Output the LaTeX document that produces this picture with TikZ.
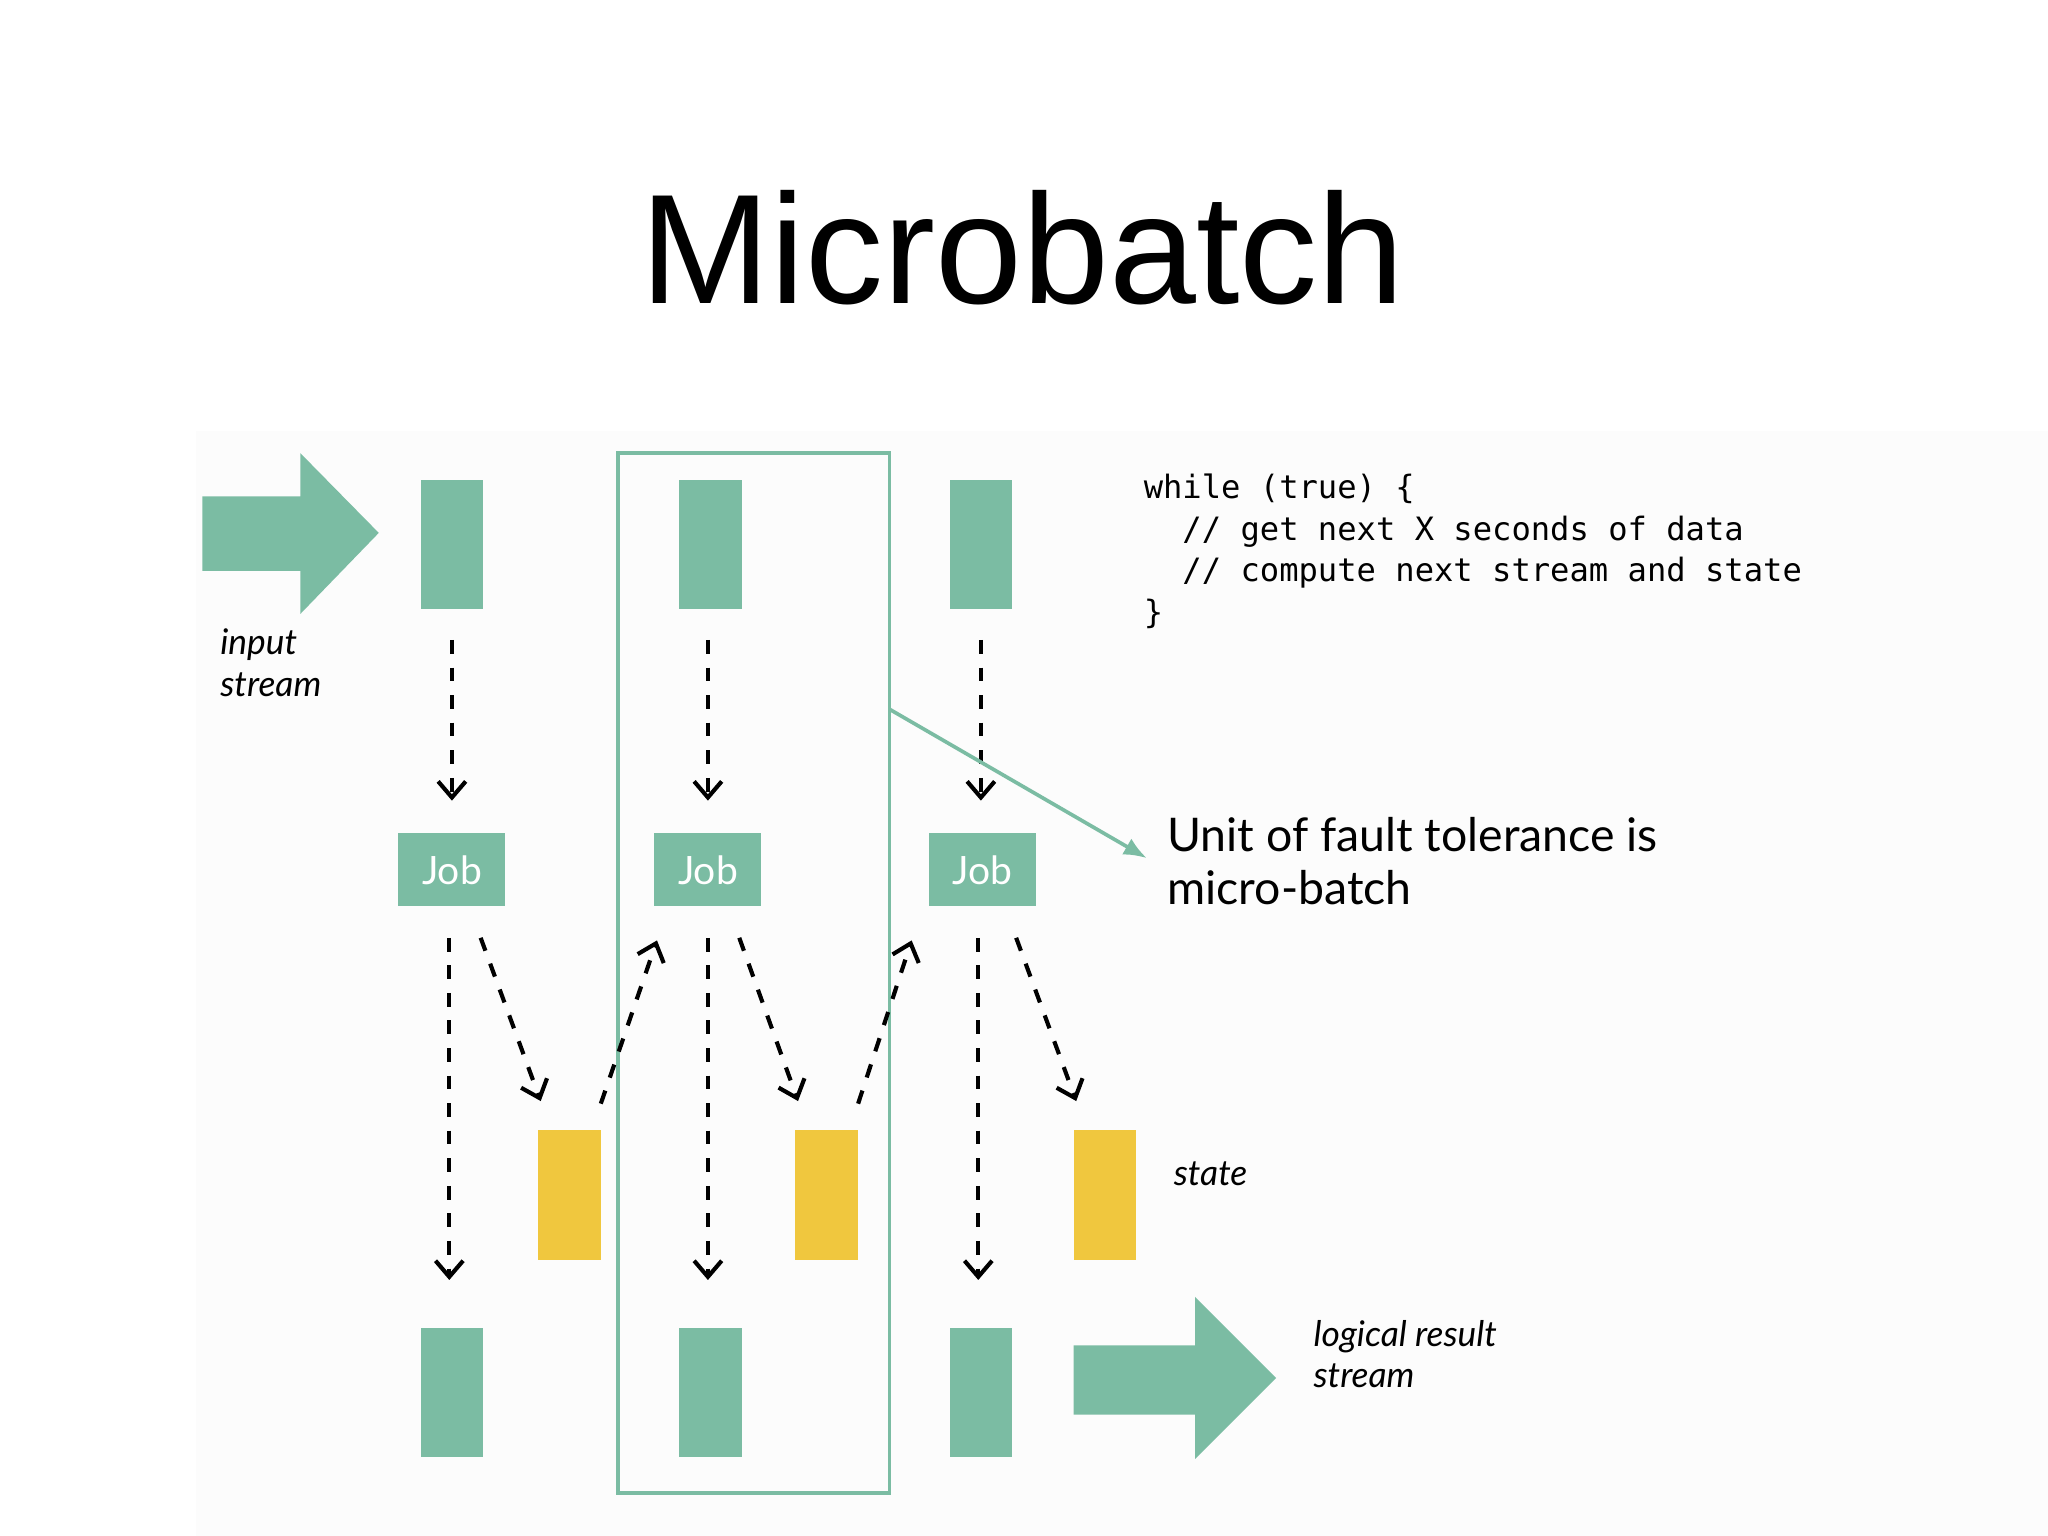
\documentclass[tikz,border=0pt]{standalone}
\usepackage{fontspec}
\setmainfont{Lato}
\newfontfamily\heros{Liberation Sans}
\newfontfamily\codef{DejaVu Sans Mono}
\usetikzlibrary{arrows.meta}
\definecolor{gr}{HTML}{7BBCA3}
\definecolor{yl}{HTML}{F0C73E}
\begin{document}
\begin{tikzpicture}[x=0.01cm,y=-0.01cm,
 blk/.style={fill=gr,draw=none,minimum width=48*0.01cm,minimum height=99*0.01cm,inner sep=0},
 st/.style={fill=yl,draw=none,minimum width=48*0.01cm,minimum height=99*0.01cm,inner sep=0},
 job/.style={fill=gr,draw=none,minimum width=82*0.01cm,minimum height=56*0.01cm,inner sep=0,text=white,font=\fontsize{8.5}{10}\selectfont},
 da/.style={dashed,line width=0.9pt,-{Straight Barb[length=3.5pt,width=6pt]}},
 lab/.style={font=\fontsize{7.7}{9}\selectfont\itshape,align=left,anchor=north west,inner sep=0}]
\useasboundingbox (0,0) rectangle (1568,1176);
\fill[gray!2] (150,330) rectangle (1568,1176);
\node[font=\heros\fontsize{34}{38}\selectfont] (title) at (783,190) {Microbatch};
\draw[gr,line width=0.8pt] (473,347) rectangle (681,1143);
\coordinate (fr) at (681,543);
\fill[gr] (155,380) -- (230,380) -- (230,347) -- (290,408) -- (230,470) -- (230,437) -- (155,437) -- cycle;
\fill[gr] (822,1030) -- (915,1030) -- (915,993) -- (977,1055) -- (915,1117) -- (915,1083) -- (822,1083) -- cycle;
\foreach \i/\x/\j/\s in {1/346/346/436,2/544/542/633,3/751/752/846}{
 \node[blk] (t\i) at (\x,417) {};
 \node[blk] (b\i) at (\x,1066) {};
 \node[job] (j\i) at (\j,666) {Job};
 \node[st] (s\i) at (\s,915) {};
}
\draw[da] (346,490) -- (346,613);
\draw[da] (542,490) -- (542,613);
\draw[da] (751,490) -- (751,613);
\draw[da] (344,718) -- (344,980);
\draw[da] (542,718) -- (542,980);
\draw[da] (749,718) -- (749,980);
\draw[da] (368,718) -- (414,843);
\draw[da] (566,718) -- (611,843);
\draw[da] (778,718) -- (824,843);
\draw[da] (460,845) -- (503,720);
\draw[da] (657,845) -- (698,720);
\node[font=\fontsize{10.1}{11.5}\selectfont,align=left,anchor=north west,inner sep=0] (unit) at (893,625) {Unit of fault tolerance is\\micro-batch};
\draw[gr,line width=0.8pt,-{Latex[length=5pt,width=4pt]}] (fr) -- (878,657);
\node[font=\codef\fontsize{7}{9.1}\selectfont,align=left,anchor=north west,inner sep=0] (code) at (875,362) {while (true) \{\\\ \ // get next X seconds of data\\\ \ // compute next stream and state\\\}};
\node[lab] (in) at (168,481) {input\\stream};
\node[lab] (st) at (898,889) {state};
\node[lab] (lr) at (1005,1010) {logical result\\stream};
\end{tikzpicture}
\end{document}
